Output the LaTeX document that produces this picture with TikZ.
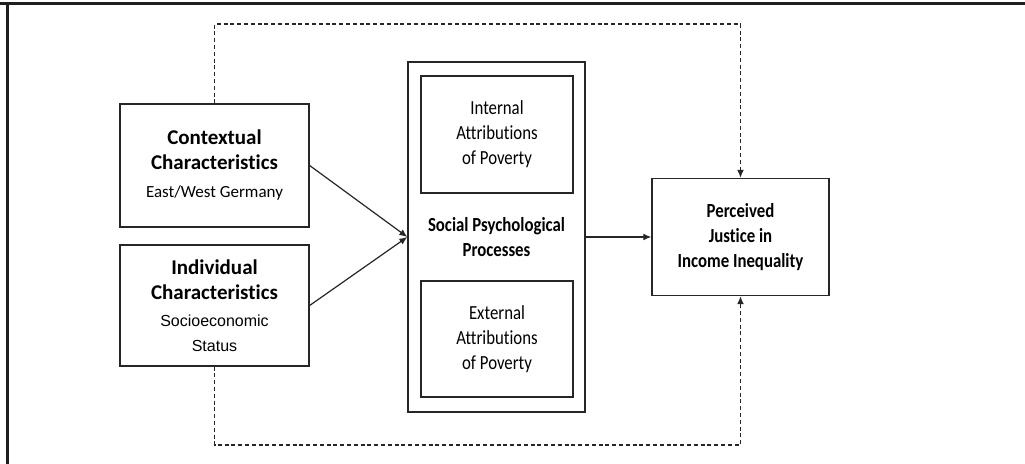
\documentclass[tikz,border=0pt]{standalone}
\usepackage{fontspec}
\setmainfont[Ligatures=NoCommon]{Carlito}
\newfontfamily\narrowfont[Ligatures=NoCommon,FakeStretch=0.84]{Carlito}
\newfontfamily\arialfont{Liberation Sans}
\usetikzlibrary{arrows.meta}
\tikzset{
  boxnode/.style={draw=black!85,line width=0.65pt,align=center,inner sep=0pt},
  pathline/.style={draw=black!85,line width=0.6pt,-{Latex[length=4pt,width=3.4pt]}},
  dashline/.style={pathline,dash pattern=on 2pt off 1.4pt},
  bigtext/.style={font=\fontsize{10.5}{12.5}\selectfont},
  narrowtext/.style={font=\narrowfont\fontsize{10}{12.5}\selectfont}
}

\begin{document}
\begin{tikzpicture}[scale=1.000000,x=0.500000pt,y=-0.500000pt]
\useasboundingbox[fill=white] (0.000000, 0.000000) rectangle (1025.000000, 464.000000);
% Drawing frame
\draw[color=black!88,line width=1.5pt] (0.000000,4.000000) -- (1025.000000,4.000000);
\draw[color=black!88,line width=1.5pt] (7.000000,4.000000) -- (7.000000,464.000000);
% Done with frame; drawing boxes
% Box 1: contextual characteristics
\node[boxnode,bigtext,minimum width=94.5pt,minimum height=61.5pt] (ctx) at (214.500000, 165.500000)
  {\textbf{Contextual}\\\textbf{Characteristics}\\[1.5pt]\fontsize{8.5}{10}\selectfont East/West Germany};
% Box 2: individual characteristics
\node[boxnode,bigtext,minimum width=94.5pt,minimum height=60.5pt] (ind) at (214.500000, 305.500000)
  {\textbf{Individual}\\\textbf{Characteristics}\\[1pt]\arialfont\fontsize{8}{10}\selectfont Socioeconomic\\\arialfont\fontsize{8}{10}\selectfont Status};
% Box 3: social psychological processes
\node[boxnode,narrowtext,minimum width=88.5pt,minimum height=175pt] (soc) at (496.500000, 237.000000)
  {\textbf{Social Psychological}\\\textbf{Processes}};
% Box 4: internal attributions
\node[boxnode,narrowtext,minimum width=76pt,minimum height=58.5pt] (intl) at (497.000000, 134.500000)
  {Internal\\Attributions\\of Poverty};
% Box 5: external attributions
\node[boxnode,narrowtext,minimum width=76pt,minimum height=58pt] (extl) at (497.000000, 339.000000)
  {External\\Attributions\\of Poverty};
% Box 6: perceived justice
\node[boxnode,narrowtext,minimum width=88.5pt,minimum height=58.5pt] (pjii) at (740.500000, 237.000000)
  {\textbf{Perceived}\\\textbf{Justice in}\\\textbf{Income Inequality}};
% Done with boxes; drawing arrows
\coordinate (topy) at (0.000000, 24.000000);
\coordinate (boty) at (0.000000, 445.000000);
\draw[pathline] (ctx.east) -- (soc.west);
\draw[pathline] (ind.east) -- (soc.west);
\draw[pathline] (soc.east) -- (pjii.west);
% Dashed paths round the middle
\draw[dashline] (ctx.north) -- (ctx.north |- topy) -| (pjii.north);
\draw[dashline] (ind.south) -- (ind.south |- boty) -| (pjii.south);
% Done with arrows
\end{tikzpicture}
\end{document}
